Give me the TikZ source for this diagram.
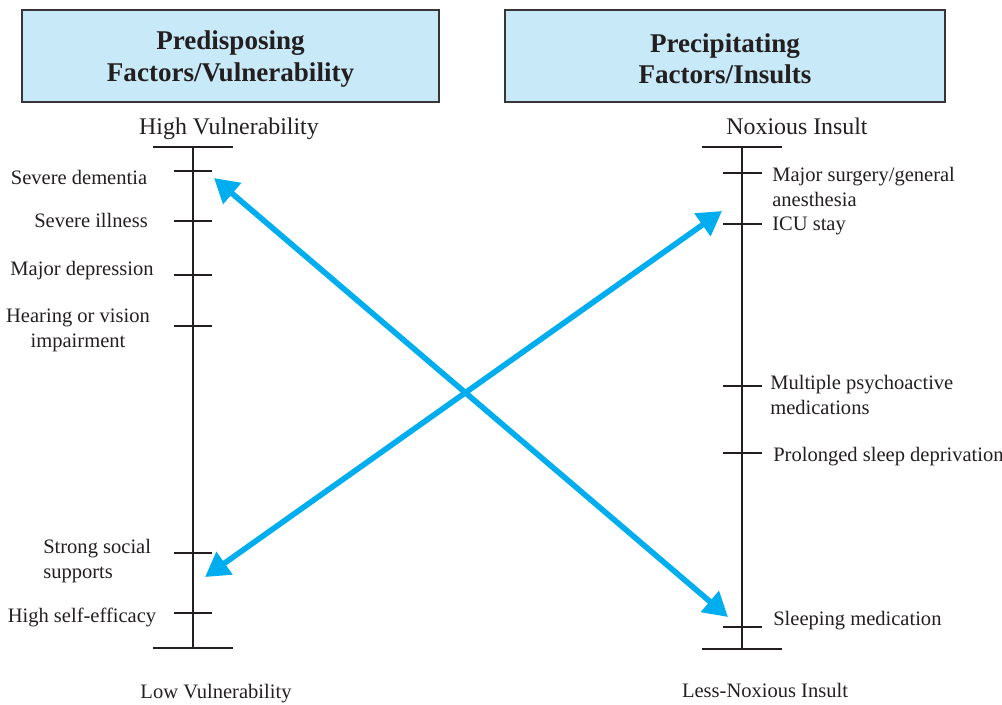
\documentclass[tikz,border=0pt]{standalone}
\usepackage{fontspec}
\setmainfont{Liberation Serif}
\usepackage{xcolor}
\usetikzlibrary{arrows.meta, positioning}
\definecolor{headblue}{HTML}{C8E9F8}
\definecolor{arrowblue}{HTML}{00AEEF}
\definecolor{inkgray}{HTML}{231F20}
\tikzstyle{header} = [rectangle, minimum height=69pt, align=center, draw=inkgray!90, line width=1.5pt, fill=headblue, text=inkgray, font=\fontsize{20.3pt}{23.5pt}\selectfont\bfseries]
\tikzstyle{endlabel} = [inner sep=0pt, text=inkgray, font=\fontsize{17.9pt}{21pt}\selectfont]
\tikzstyle{factor} = [inner sep=0pt, text=inkgray, font=\fontsize{15.4pt}{18.75pt}\selectfont]
\tikzstyle{axis} = [line width=1.4pt, draw=inkgray]
\tikzstyle{arrow} = [line width=4.2pt, draw=arrowblue, {Triangle[length=18pt,width=20pt]}-{Triangle[length=18pt,width=20pt]}]

\begin{document}
\begin{tikzpicture}[x=0.75pt, y=-0.75pt]
\useasboundingbox (0,0) rectangle (1002,704);

% Headers
\node (predisp) [header, minimum width=312.75pt] at (230.5,56) {\rule{0pt}{18.4pt}Predisposing\\Factors/Vulnerability};
\node (precip) [header, minimum width=330pt, right=48pt of predisp] {\rule{0pt}{18.4pt}Precipitating\\Factors/Insults};

% Left axis
\draw[axis] (193,147) -- (193,648);
\draw[axis] (153,147) -- (233,147);
\draw[axis] (153,648) -- (233,648);
\foreach \y in {171,221,275,326,553,613}
  \draw[axis] (174,\y) -- (212,\y);

\node (highvul) [endlabel] at (229,129) {High Vulnerability};
\node (lowvul) [factor] at (216,694) {Low Vulnerability};

\node (dementia) [factor] at (79,177) {Severe dementia};
\node (illness) [factor] at (91,220) {Severe illness};
\node (depression) [factor] at (82,271) {Major depression};
\node (hearing) [factor, align=center] at (78,330) {Hearing or vision\\impairment};
\node (social) [factor, align=left, anchor=west] at (43,561) {Strong social\\supports};
\node (efficacy) [factor] at (82,617) {High self-efficacy};

% Right axis
\draw[axis] (742,147) -- (742,649);
\draw[axis] (702,147) -- (782,147);
\draw[axis] (702,649) -- (782,649);
\foreach \y in {173,224,386,453,627}
  \draw[axis] (723,\y) -- (762,\y);

\node (noxious) [endlabel] at (797,126) {Noxious Insult};
\node (lessnox) [factor] at (765,690) {Less-Noxious Insult};

\node (surgery) [factor, align=left, anchor=west] at (772,187) {Major surgery/general\\anesthesia};
\node (icu) [factor, anchor=west] at (772,226) {ICU stay};
\node (psycho) [factor, align=left, anchor=west] at (770,395) {Multiple psychoactive\\medications};
\node (sleepdep) [factor, anchor=west] at (773,457) {Prolonged sleep deprivation};
\node (sleepmed) [factor, anchor=west] at (773,621) {Sleeping medication};

% Arrows
\coordinate (demtip) at (214,178);
\coordinate (sleeptip) at (728,617);
\coordinate (supporttip) at (205,577);
\coordinate (icutip) at (722,211);

\draw[arrow] (demtip) -- (sleeptip);
\draw[arrow] (supporttip) -- (icutip);

\end{tikzpicture}
\end{document}
